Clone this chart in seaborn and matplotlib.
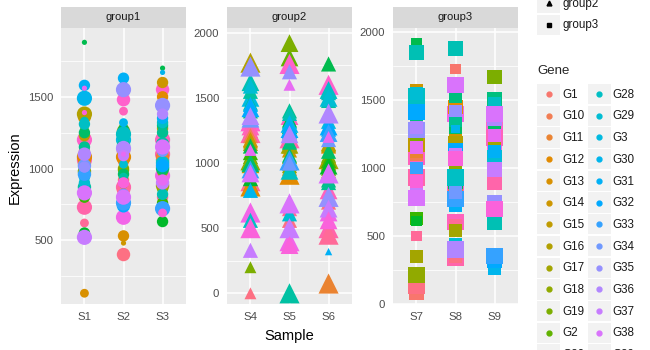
import matplotlib as mpl

mpl.use('Agg')
import numpy as np
import pandas as pd
import matplotlib.pyplot as plt
import seaborn as sns
from matplotlib.lines import Line2D
from matplotlib.patches import Rectangle
from matplotlib.legend_handler import HandlerBase

genes = ['G%d' % i for i in range(1, 41)]
samples = ['S1', 'S2', 'S3', 'S4', 'S5', 'S6', 'S7', 'S8', 'S9']
sample_group = ['group1'] * 3 + ['group2'] * 3 + ['group3'] * 3
group_names = ['group1', 'group2', 'group3']

# expression per sample, genes in order G1..G40
s1_expr = [1120, 910, 940, 1180, 1200, 1060, 730, 620, 1210, 1040,
           1090, 1080, 130, 1360, 1230, 1380, 1270, 980, 840, 800,
           550, 1880, 1250, 880, 1150, 870, 1330, 1310, 900, 1490,
           1580, 1000, 960, 1020, 1010, 1100, 520, 830, 1560, 1390]
s2_expr = [920, 1020, 1200, 660, 1480, 1400, 870, 850, 400, 1050,
           1120, 1080, 530, 480, 1180, 1260, 1000, 1290, 990, 1230,
           890, 1270, 960, 780, 1160, 940, 1210, 1240, 1030, 1320,
           1630, 740, 760, 820, 1550, 1140, 1090, 800, 1100, 900]
s3_expr = [1230, 860, 1060, 950, 1550, 1200, 1100, 800, 1060, 1130,
           1080, 1500, 1470, 1600, 1280, 1320, 880, 980, 1400, 760,
           630, 1700, 1000, 1300, 1250, 1170, 820, 1320, 1040, 1670,
           1350, 1020, 720, 1120, 1440, 1380, 900, 1150, 920, 690]
s4_expr = [1250, 1050, 1500, 620, 1320, 1280, 1230, 860, 0, 1210,
           840, 820, 1170, 1180, 990, 1770, 1150, 1020, 200, 1080,
           880, 1130, 1000, 1400, 1460, 1550, 1620, 560, 1590, 790,
           1450, 1420, 950, 1340, 1740, 1360, 330, 920, 1100, 500]
s5_expr = [1170, 1810, 1320, 400, 1760, 1360, 1190, 650, 560, 1230,
           920, 910, 960, 1100, 1130, 1050, 1140, 980, 1920, 1000,
           1280, 1330, 1060, 1160, 1400, 0, 1380, 940, 610, 1300,
           1240, 1260, 1020, 1000, 1700, 1220, 500, 690, 1600, 370]
s6_expr = [1560, 960, 1320, 620, 1600, 790, 500, 450, 700, 1050,
           75, 1130, 1000, 1150, 940, 1140, 1030, 1000, 1060, 1020,
           980, 1760, 1090, 870, 850, 1480, 1540, 1560, 1500, 1260,
           320, 1280, 1230, 1180, 740, 1380, 650, 920, 1200, 560]
s7_expr = [80, 1050, 1440, 1060, 1250, 1080, 930, 500, 130, 1100,
           1120, 1200, 1160, 1570, 1180, 1500, 350, 210, 1240, 630,
           610, 1920, 1340, 1380, 1460, 1480, 1850, 1530, 1550, 1400,
           1000, 1410, 1000, 860, 1280, 1300, 820, 780, 1150, 900]
s8_expr = [1730, 880, 1080, 1400, 860, 600, 340, 580, 350, 1000,
           800, 1450, 1150, 1220, 960, 1180, 540, 1010, 920, 1320,
           1540, 900, 1300, 1530, 1350, 940, 1880, 930, 440, 1290,
           720, 1130, 770, 820, 1420, 400, 1100, 1610, 1060, 1070]
s9_expr = [1250, 1350, 1050, 1160, 1280, 1220, 890, 660, 1200, 1200,
           1190, 1300, 1260, 1150, 1230, 1330, 1180, 1290, 1670, 1450,
           1420, 1440, 1320, 1510, 1460, 1100, 600, 1480, 1080, 260,
           1120, 320, 350, 1380, 750, 1360, 990, 1400, 1240, 700]

# size level per point, genes in order G1..G40
s1_size = [3, 2, 3, 3, 5, 5, 5, 2, 2, 4, 2, 5, 2, 4, 3, 5, 2, 4, 3, 3,
           3, 1, 3, 3, 3, 4, 2, 3, 3, 5, 3, 3, 4, 4, 3, 4, 5, 5, 1, 1]
s2_size = [3, 2, 5, 5, 4, 2, 5, 4, 4, 3, 4, 5, 3, 1, 2, 4, 3, 2, 3, 3,
           2, 3, 3, 3, 4, 2, 3, 5, 2, 2, 3, 4, 5, 3, 5, 5, 3, 5, 1, 3]
s3_size = [3, 3, 4, 5, 4, 5, 5, 3, 3, 3, 4, 3, 2, 3, 3, 2, 4, 3, 2, 3,
           3, 1, 4, 3, 3, 4, 3, 3, 4, 1, 3, 4, 5, 3, 5, 3, 4, 5, 3, 2]
s4_size = [3, 3, 4, 5, 5, 4, 5, 5, 2, 3, 3, 5, 3, 3, 4, 5, 3, 5, 2, 3,
           3, 3, 4, 3, 3, 3, 4, 3, 3, 3, 3, 4, 4, 4, 5, 4, 3, 4, 2, 5]
s5_size = [3, 4, 3, 5, 5, 4, 5, 3, 3, 3, 3, 5, 3, 3, 3, 3, 4, 3, 4, 3,
           3, 3, 3, 3, 3, 5, 3, 4, 3, 4, 3, 4, 5, 3, 3, 4, 5, 5, 2, 4]
s6_size = [3, 3, 3, 4, 5, 4, 5, 5, 3, 3, 5, 3, 3, 3, 3, 3, 5, 3, 3, 3,
           4, 3, 3, 3, 3, 3, 3, 4, 4, 3, 1, 4, 4, 3, 5, 5, 4, 5, 2, 4]
s7_size = [4, 3, 3, 3, 3, 5, 5, 2, 5, 3, 3, 3, 3, 3, 5, 3, 3, 5, 3, 3,
           2, 2, 3, 3, 3, 3, 4, 5, 3, 3, 3, 5, 3, 3, 5, 3, 3, 5, 3, 3]
s8_size = [2, 3, 3, 5, 5, 5, 5, 3, 3, 3, 4, 4, 3, 3, 3, 4, 3, 3, 3, 3,
           3, 4, 3, 3, 3, 3, 4, 5, 3, 1, 3, 4, 5, 3, 3, 5, 3, 5, 3, 4]
s9_size = [3, 3, 3, 4, 5, 5, 4, 4, 3, 3, 3, 3, 3, 3, 3, 3, 3, 3, 4, 3,
           3, 3, 3, 4, 3, 3, 4, 3, 4, 3, 3, 4, 5, 3, 4, 4, 4, 5, 3, 5]

expr = [s1_expr, s2_expr, s3_expr, s4_expr, s5_expr, s6_expr,
        s7_expr, s8_expr, s9_expr]
size = [s1_size, s2_size, s3_size, s4_size, s5_size, s6_size,
        s7_size, s8_size, s9_size]


def hue_pal(n, l=65, c=100):
    # ggplot2 style hcl hue palette
    cols = []
    xn, yn, zn = 95.047, 100.0, 108.883
    un = 4 * xn / (xn + 15 * yn + 3 * zn)
    vn = 9 * yn / (xn + 15 * yn + 3 * zn)
    m = np.array([[3.2404542, -1.5371385, -0.4985314],
                  [-0.9692660, 1.8760108, 0.0415560],
                  [0.0556434, -0.2040259, 1.0572252]])
    for h in np.linspace(15, 375, n + 1)[:-1]:
        u = c * np.cos(np.radians(h))
        v = c * np.sin(np.radians(h))
        Y = yn * ((l + 16) / 116) ** 3
        up = u / (13 * l) + un
        vp = v / (13 * l) + vn
        X = Y * 9 * up / (4 * vp)
        Z = Y * (12 - 3 * up - 20 * vp) / (4 * vp)
        rgb = m @ (np.array([X, Y, Z]) / 100)
        rgb = np.clip(rgb, 0, None)
        rgb = np.where(rgb <= 0.0031308, 12.92 * rgb,
                       1.055 * rgb ** (1 / 2.4) - 0.055)
        cols.append(tuple(np.clip(rgb, 0, 1)))
    return cols


class KeyHandler(HandlerBase):
    def create_artists(self, legend, orig_handle, xdescent, ydescent,
                       width, height, fontsize, trans):
        bg = Rectangle((-xdescent, -ydescent), width, height,
                       facecolor='#F2F2F2', edgecolor='none', transform=trans)
        dot = Line2D([width / 2 - xdescent], [height / 2 - ydescent], ls='',
                     marker=orig_handle.get_marker(),
                     color=orig_handle.get_color(),
                     markersize=orig_handle.get_markersize(), transform=trans)
        return [bg, dot]


rows = []
for i, s in enumerate(samples):
    for j, g in enumerate(genes):
        rows.append([s, sample_group[i], g, expr[i][j], size[i][j]])
df = pd.DataFrame(rows, columns=['Sample', 'group', 'Gene', 'Expression', 'Size'])

gene_order = sorted(genes)
palette = dict(zip(gene_order, hue_pal(len(gene_order))))

sns.set_theme(style='darkgrid', rc={'axes.facecolor': '#EBEBEB'})
plt.rcParams['font.family'] = ['Liberation Sans', 'DejaVu Sans']

markers = {'group1': 'o', 'group2': '^', 'group3': 's'}
sizes = {'group1': (14, 120), 'group2': (28, 210), 'group3': (34, 135)}
ylims = {'group1': (55, 1980), 'group2': (-82, 2036), 'group3': (-2, 2032)}
yticks = {'group1': [500, 1000, 1500], 'group2': [0, 500, 1000, 1500, 2000],
          'group3': [0, 500, 1000, 1500, 2000]}
yminor = {'group1': [250, 750, 1250, 1750], 'group2': [250, 750, 1250, 1750],
          'group3': [250, 750, 1250, 1750]}
lefts = [61, 227, 393]

fig = plt.figure(figsize=(6.5, 3.5), dpi=100)
fig.patch.set_facecolor('white')

for k, grp in enumerate(group_names):
    ax = fig.add_axes([lefts[k] / 650, 46 / 350, 125 / 650, 276 / 350])
    sub = df[df['group'] == grp]
    sns.scatterplot(data=sub, x='Sample', y='Expression', hue='Gene',
                    hue_order=gene_order, palette=palette, size='Size',
                    sizes=sizes[grp], size_norm=(1, 5), marker=markers[grp],
                    linewidth=0, alpha=1, legend=False, ax=ax)
    ax.set_xlim(-0.6, 2.6)
    ax.set_ylim(*ylims[grp])
    ax.set_yticks(yticks[grp])
    ax.set_yticks(yminor[grp], minor=True)
    ax.grid(which='major', color='white', lw=1.1)
    ax.grid(which='minor', color='white', lw=0.55)
    ax.set_axisbelow(True)
    for sp in ax.spines.values():
        sp.set_visible(False)
    ax.tick_params(axis='both', which='major', length=3.5, width=0.8,
                   color='#333333', labelcolor='#4D4D4D', labelsize=8.2, pad=2)
    ax.tick_params(axis='both', which='minor', length=0)
    ax.set_xlabel('')
    ax.set_ylabel('')

    strip = fig.add_axes([lefts[k] / 650, 322 / 350, 125 / 650, 21 / 350])
    strip.set_facecolor('#D9D9D9')
    strip.set_xticks([])
    strip.set_yticks([])
    strip.grid(False)
    for sp in strip.spines.values():
        sp.set_visible(False)
    strip.text(0.5, 0.5, grp, ha='center', va='center', fontsize=8.1,
               color='#1A1A1A', transform=strip.transAxes)

fig.text(289 / 650, 1 - 336 / 350, 'Sample', ha='center', va='center',
         fontsize=10.5, color='black')
fig.text(15 / 650, 1 - 168 / 350, 'Expression', ha='center', va='center',
         rotation=90, fontsize=10.5, color='black')

leg_kw = dict(frameon=False, fontsize=8.4, title_fontsize=9.5,
              handlelength=2.0, handleheight=2.3, handletextpad=0.15,
              labelspacing=0.12, borderpad=0, borderaxespad=0,
              alignment='left', handler_map={Line2D: KeyHandler()})

# shape legend (mostly above the visible area)
shape_handles = [Line2D([], [], ls='', marker=markers[g], color='black',
                        markersize=3.5) for g in group_names]
leg1 = fig.legend(shape_handles, group_names, title='group', loc='lower left',
                  bbox_to_anchor=(537 / 650, 1 - 35 / 350), **leg_kw)
for t in leg1.get_texts():
    t.set_color('#1A1A1A')

gene_handles = [Line2D([], [], ls='', marker='o', color=palette[g],
                       markersize=3.5) for g in gene_order]
leg2 = fig.legend(gene_handles, gene_order, title='Gene', ncol=2,
                  loc='upper left', bbox_to_anchor=(537 / 650, 1 - 65 / 350),
                  columnspacing=0.3, **leg_kw)
leg2._legend_box.sep = 5
for t in leg2.get_texts():
    t.set_color('#1A1A1A')

plt.savefig('out.png', dpi=100)
